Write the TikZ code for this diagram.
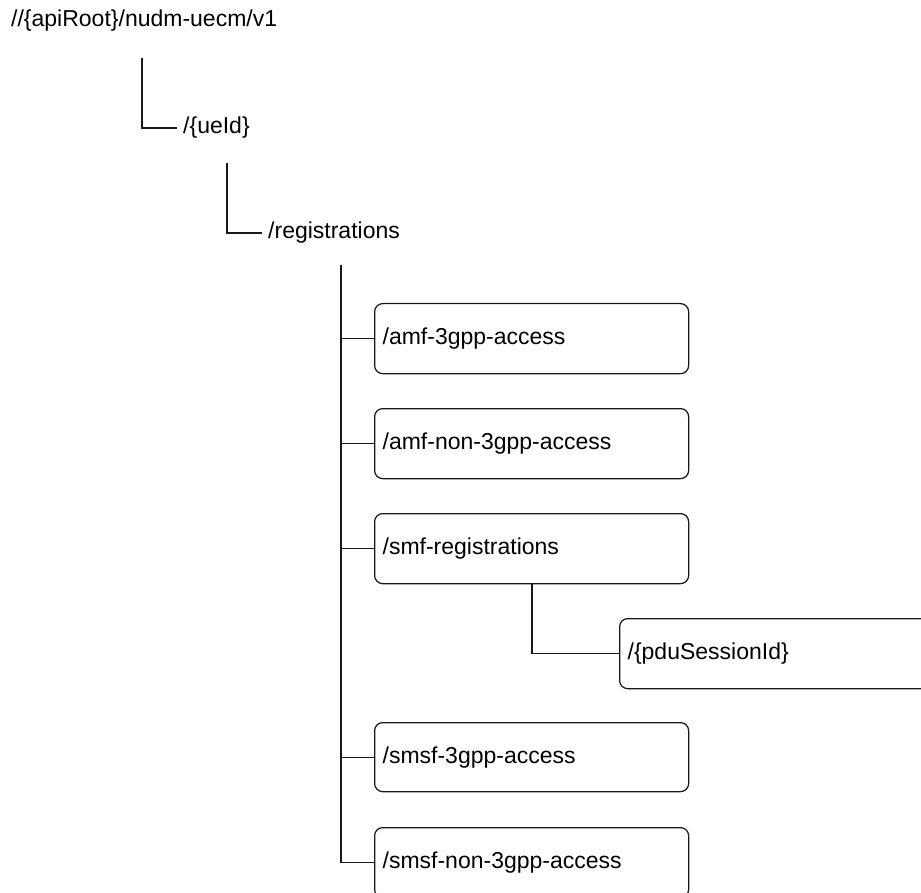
\documentclass[tikz,border=0pt]{standalone}
\usepackage{fontspec}
\setmainfont{Liberation Sans}
\begin{document}
\begin{tikzpicture}[x=1pt,y=-1pt,
  every node/.style={font=\fontsize{23pt}{27pt}\selectfont},
  lbl/.style={anchor=west,inner xsep=6pt,inner ysep=0pt},
  res/.style={draw=black!90,line width=1.25pt,rounded corners=8pt,anchor=north west,
    minimum height=70pt,text width=298pt,align=left,inner xsep=8pt,inner ysep=0pt},
  conn/.style={draw=black!90,line width=1.25pt}]
\useasboundingbox (0,0) rectangle (921,893);
\clip (0,0) rectangle (921,893);
\node[anchor=west,inner sep=0pt] (root) at (11,21) {//\{apiRoot\}/nudm-uecm/v1};
\coordinate (c1) at (142,58);
\node[lbl] (ueid) at (177,128) {/\{ueId\}};
\coordinate (c2) at (227,163);
\node[lbl] (regs) at (262,233) {/registrations};
\coordinate (c3) at (341,265);
\node[res] (b1) at (374,303) {/amf-3gpp-access};
\node[res] (b2) at (374,408) {/amf-non-3gpp-access};
\node[res] (b3) at (374,513) {/smf-registrations};
\node[res,text width=320pt] (pdu) at (619,618) {/\{pduSessionId\}};
\node[res,minimum height=69pt] (b4) at (374,722) {/smsf-3gpp-access};
\node[res] (b5) at (374,827) {/smsf-non-3gpp-access};
\draw[conn] (c1) |- (ueid.west);
\draw[conn] (c2) |- (regs.west);
\draw[conn] (c3) |- (b5.west);
\draw[conn] (c3 |- b1.west) -- (b1.west);
\draw[conn] (c3 |- b2.west) -- (b2.west);
\draw[conn] (c3 |- b3.west) -- (b3.west);
\draw[conn] (c3 |- b4.west) -- (b4.west);
\coordinate (c4) at (532,0);
\draw[conn] (c4 |- b3.south) |- (pdu.west);
\end{tikzpicture}
\end{document}
